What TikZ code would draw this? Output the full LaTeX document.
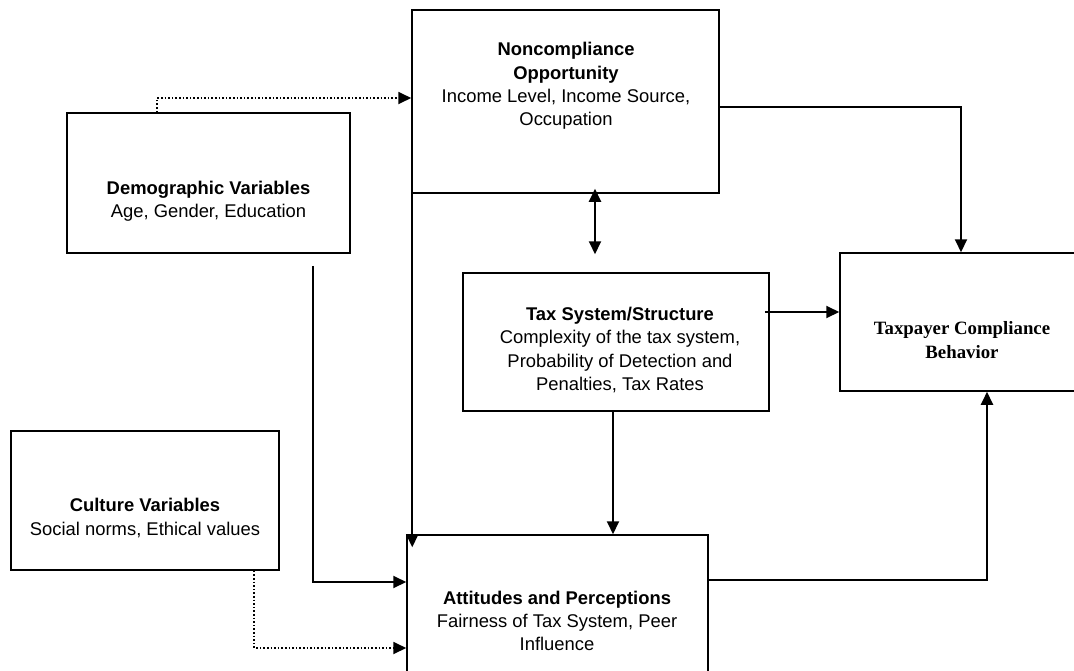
\documentclass[tikz,border=0pt]{standalone}
\usepackage{fontspec}
\setmainfont{Liberation Sans}
\newfontfamily\tnrfont{Liberation Serif}
\usetikzlibrary{arrows.meta,calc}
\tikzset{
  boxnode/.style={draw=black,line width=1.5pt,inner sep=0pt},
  txt/.style={align=center,inner sep=0pt,font=\fontsize{18.4}{23.3}\selectfont},
  conn/.style={draw=black,line width=2pt,-{Triangle[length=13pt,width=12pt]}},
  dconn/.style={draw=black,line width=2pt,{Triangle[length=13pt,width=12pt]}-{Triangle[length=13pt,width=12pt]}},
  dotconn/.style={draw=black,line width=1.8pt,dash pattern=on 1.6pt off 2pt,-{Triangle[length=13pt,width=12pt]}}
}
\begin{document}
\begin{tikzpicture}[x=1pt,y=-1pt]
\useasboundingbox (0,0) rectangle (1074,670);
% boxes
\node[boxnode,minimum width=307pt,minimum height=183pt] (nonc) at (565.5,101.5) {};
\node[boxnode,minimum width=283pt,minimum height=140pt] (demo) at (208.5,183) {};
\node[boxnode,minimum width=306pt,minimum height=138pt] (tax) at (616,342) {};
\node[boxnode,minimum width=242pt,minimum height=138pt] (taxp) at (961,322) {};
\node[boxnode,minimum width=268pt,minimum height=139pt] (cult) at (145,500.5) {};
\node[boxnode,minimum width=301pt,minimum height=160pt] (att) at (557.5,615) {};
% texts
\node[txt] (noncT) at (566,86) {\textbf{Noncompliance}\\\textbf{Opportunity}\\Income Level, Income Source,\\Occupation};
\node[txt] (demoT) at (208.5,201) {\textbf{Demographic Variables}\\Age, Gender, Education};
\node[txt] (taxT) at (620,350) {\textbf{Tax System/Structure}\\Complexity of the tax system,\\Probability of Detection and\\Penalties, Tax Rates};
\node[txt,font=\tnrfont\bfseries\fontsize{18.8}{23.3}\selectfont] (taxpT) at (962,340) {Taxpayer Compliance\\Behavior};
\node[txt] (cultT) at (145,518) {\textbf{Culture Variables}\\Social norms, Ethical values};
\node[txt] (attT) at (557,621) {\textbf{Attitudes and Perceptions}\\Fairness of Tax System, Peer\\Influence};
% connectors
\draw[dotconn] ($(demo.north west)+(91,0)$) |- (nonc.west |- 0,98);
\draw[conn] (nonc.east |- 0,107) -| (taxp.north);
\draw[dconn] ($(nonc.south -| 595,0)+(0,-5)$) -- ($(tax.north -| 595,0)+(0,-18)$);
\draw[conn] ($(tax.east |- 0,312)+(-5,0)$) -- (taxp.west |- 0,312);
\draw[conn] (tax.south -| 613,0) -- (att.north -| 613,0);
\draw[conn] ($(nonc.south west)+(1,-40)$) -- ($(att.north west)+(6,13)$);
\draw[conn] ($(demo.south west)+(247,12)$) |- (att.west |- 0,582);
\draw[dotconn] ($(cult.south west)+(244,0)$) |- (att.west |- 0,648);
\draw[conn] (att.east |- 0,580) -| (taxp.south -| 987,0);
\end{tikzpicture}
\end{document}
